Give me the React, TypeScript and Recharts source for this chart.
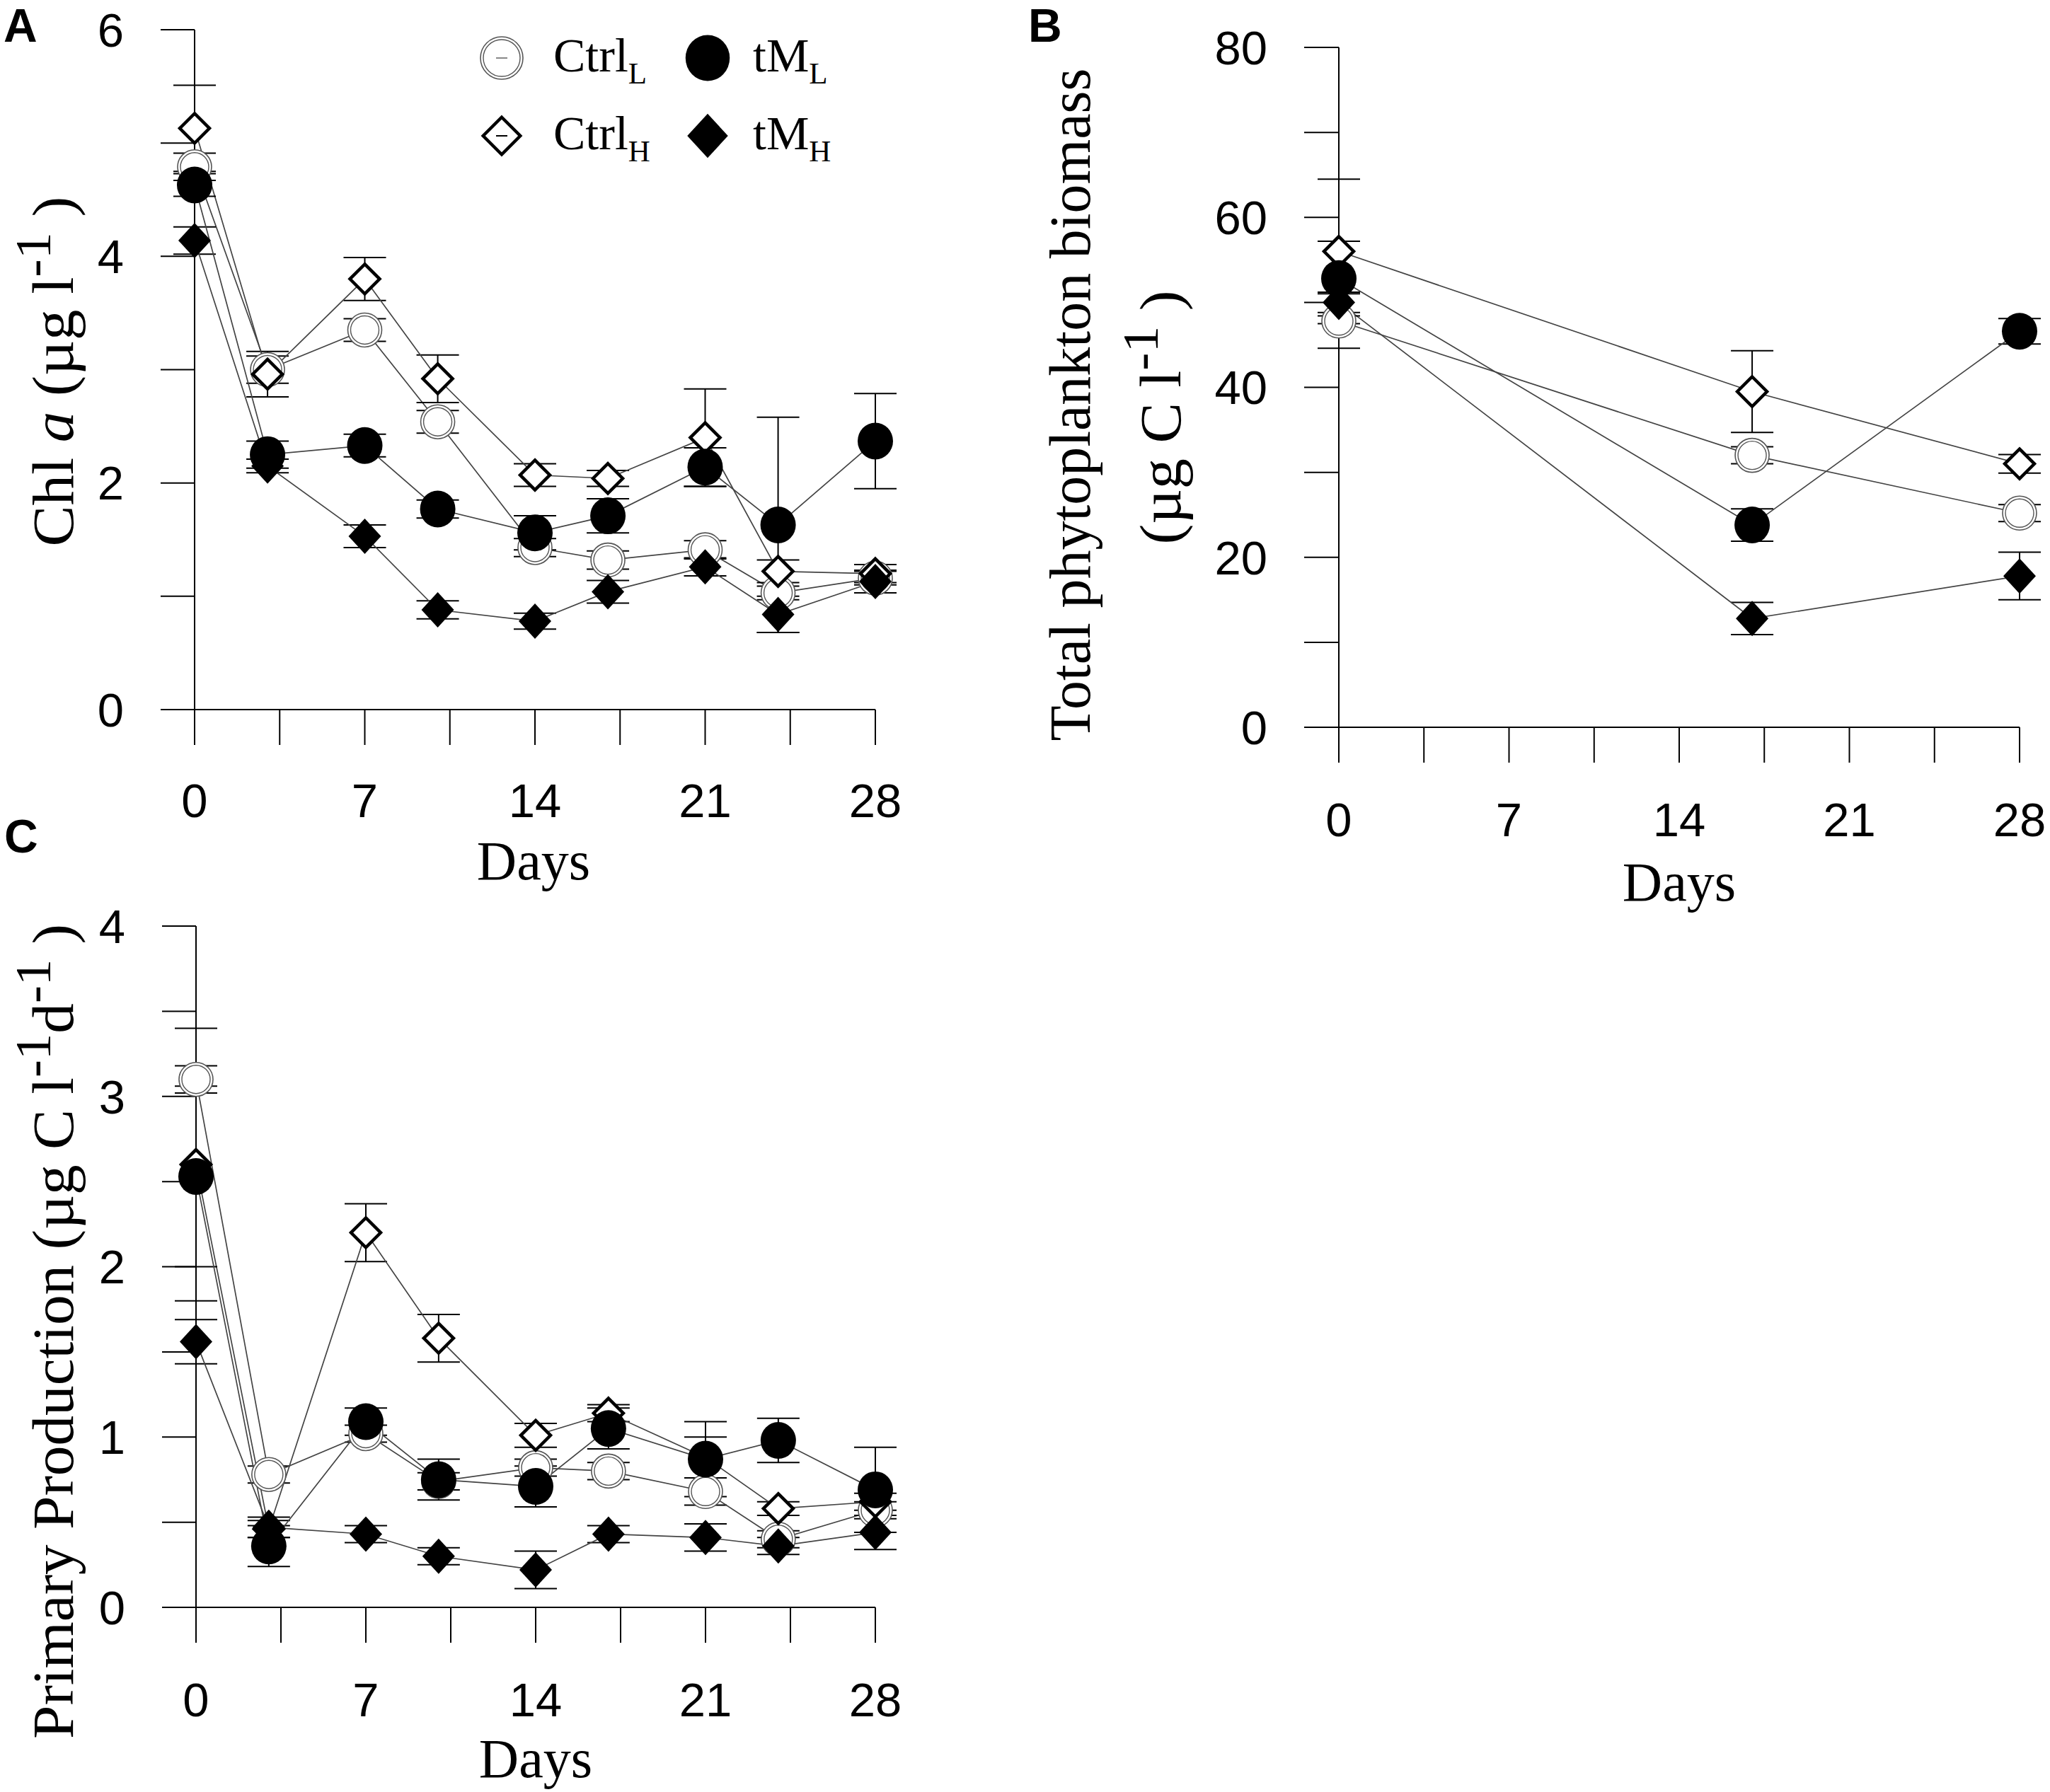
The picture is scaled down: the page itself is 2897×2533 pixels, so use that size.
import React from "react";
import { LineChart, Line, XAxis, YAxis, ErrorBar, Label, Legend } from "recharts";

// sampling days
const days = [0, 3, 7, 10, 14, 17, 21, 24, 28];
const daysB = [0, 17, 28];
const dayTicks = [0, 3.5, 7, 10.5, 14, 17.5, 21, 24.5, 28];

const chlTicks = [0, 1, 2, 3, 4, 5, 6];
const bioTicks = [0, 10, 20, 30, 40, 50, 60, 70, 80];
const ppTicks = [0, 0.5, 1, 1.5, 2, 2.5, 3, 3.5, 4];

// A: Chl a (ug/l)
const chlCtrlL = [4.79, 3.0, 3.35, 2.54, 1.43, 1.32, 1.41, 1.03, 1.16];
const chlCtrlLErr = [0.12, 0.12, 0.1, 0.1, 0.08, 0.08, 0.08, 0.06, 0.06];
const chlCtrlH = [5.13, 2.96, 3.8, 2.92, 2.07, 2.04, 2.4, 1.22, 1.2];
const chlCtrlHErr = [0.38, 0.2, 0.19, 0.21, 0.1, 0.07, 0.43, 0.1, 0.08];
const chlTML = [4.63, 2.25, 2.33, 1.77, 1.56, 1.71, 2.14, 1.63, 2.37];
const chlTMLErr = [0.1, 0.12, 0.1, 0.08, 0.15, 0.15, 0.17, 0.95, 0.42];
const chlTMH = [4.14, 2.15, 1.53, 0.88, 0.78, 1.04, 1.26, 0.84, 1.13];
const chlTMHErr = [0.12, 0.06, 0.1, 0.08, 0.07, 0.1, 0.08, 0.16, 0.1];

// B: total phytoplankton biomass (ug C/l)
const bioCtrlL = [47.8, 32.0, 25.2];
const bioCtrlLErr = [3.2, 1.0, 1.0];
const bioCtrlH = [56.0, 39.5, 31.0];
const bioCtrlHErr = [8.5, 4.8, 1.1];
const bioTML = [52.8, 23.8, 46.6];
const bioTMLErr = [4.4, 1.9, 1.5];
const bioTMH = [50.0, 12.8, 17.8];
const bioTMHErr = [1.2, 1.9, 2.8];

// C: primary production (ug C/l/d)
const ppCtrlL = [3.1, 0.78, 1.02, 0.74, 0.82, 0.8, 0.68, 0.4, 0.57];
const ppCtrlLErr = [0.08, 0.05, 0.05, 0.05, 0.05, 0.05, 0.08, 0.05, 0.05];
const ppCtrlH = [2.6, 0.46, 2.2, 1.58, 1.01, 1.14, 0.88, 0.58, 0.62];
const ppCtrlHErr = [0.8, 0.05, 0.17, 0.14, 0.07, 0.05, 0.12, 0.04, 0.05];
const ppTML = [2.53, 0.36, 1.09, 0.75, 0.71, 1.05, 0.87, 0.98, 0.69];
const ppTMLErr = [0.53, 0.12, 0.08, 0.12, 0.12, 0.12, 0.22, 0.13, 0.25];
const ppTMH = [1.56, 0.47, 0.43, 0.3, 0.22, 0.43, 0.41, 0.36, 0.44];
const ppTMHErr = [0.13, 0.06, 0.05, 0.05, 0.11, 0.05, 0.08, 0.05, 0.1];

const SERIF = "'Liberation Serif', 'Times New Roman', serif";
const SANS = "'Liberation Sans', Arial, sans-serif";
const TITLE = 82;
const SUP = 72;

type Kind = "ctrlL" | "ctrlH" | "tML" | "tMH";

function buildRows(x: number[], cols: Record<string, number[]>) {
  return x.map((d, i) => {
    const row: Record<string, number> = { day: d };
    for (const k of Object.keys(cols)) row[k] = cols[k][i];
    return row;
  });
}

const dataA = buildRows(days, {
  ctrlL: chlCtrlL, ctrlLErr: chlCtrlLErr,
  ctrlH: chlCtrlH, ctrlHErr: chlCtrlHErr,
  tML: chlTML, tMLErr: chlTMLErr,
  tMH: chlTMH, tMHErr: chlTMHErr,
});
const dataB = buildRows(daysB, {
  ctrlL: bioCtrlL, ctrlLErr: bioCtrlLErr,
  ctrlH: bioCtrlH, ctrlHErr: bioCtrlHErr,
  tML: bioTML, tMLErr: bioTMLErr,
  tMH: bioTMH, tMHErr: bioTMHErr,
});
const dataC = buildRows(days, {
  ctrlL: ppCtrlL, ctrlLErr: ppCtrlLErr,
  ctrlH: ppCtrlH, ctrlHErr: ppCtrlHErr,
  tML: ppTML, tMLErr: ppTMLErr,
  tMH: ppTMH, tMHErr: ppTMHErr,
});

function Marker({ kind, cx, cy, s = 1 }: { kind: Kind; cx: number; cy: number; s?: number }) {
  if (cx == null || cy == null) return <g />;
  if (kind === "ctrlL") {
    const r = 24 * s;
    return (
      <g>
        <circle cx={cx} cy={cy} r={r} fill="#fff" stroke="#555" strokeWidth={1.6} />
        <circle cx={cx} cy={cy} r={r - 4} fill="none" stroke="#555" strokeWidth={1.4} />
      </g>
    );
  }
  if (kind === "ctrlH") {
    const h = 21 * s;
    return (
      <polygon
        points={`${cx},${cy - h} ${cx + h},${cy} ${cx},${cy + h} ${cx - h},${cy}`}
        fill="#fff"
        stroke="#000"
        strokeWidth={4.5}
      />
    );
  }
  if (kind === "tML") {
    return <ellipse cx={cx} cy={cy} rx={25 * s} ry={26 * s} fill="#000" />;
  }
  const w = 23 * s;
  const h = 25 * s;
  return (
    <polygon points={`${cx},${cy - h} ${cx + w},${cy} ${cx},${cy + h} ${cx - w},${cy}`} fill="#000" />
  );
}

const order: Kind[] = ["ctrlL", "ctrlH", "tMH", "tML"];
const names: Record<Kind, string> = { ctrlL: "CtrlL", ctrlH: "CtrlH", tML: "tML", tMH: "tMH" };

function renderSeries() {
  return order.map((k) => (
    <Line
      key={k}
      dataKey={k}
      name={names[k]}
      type="linear"
      stroke="#444"
      strokeWidth={1.7}
      isAnimationActive={false}
      activeDot={false}
      dot={(p: any) => <Marker key={`${k}-${p.index}`} kind={k} cx={p.cx} cy={p.cy} />}
    >
      <ErrorBar dataKey={`${k}Err`} width={30} stroke="#000" strokeWidth={2} direction="y" isAnimationActive={false} />
    </Line>
  ));
}

const tickStyle = { fontSize: 67, fill: "#000", fontFamily: SANS };
const axisStroke = { stroke: "#000", strokeWidth: 2 };
const dayFmt = (v: number) => (v % 7 === 0 ? String(v) : "");

function Sup({ children }: { children: React.ReactNode }) {
  return (
    <tspan fontSize={SUP} dy={-32}>
      {children}
    </tspan>
  );
}

function LegendBox() {
  const items: { kind: Kind; label: string; sub: string; x: number; y: number; tx: number }[] = [
    { kind: "ctrlL", label: "Ctrl", sub: "L", x: 69, y: 62, tx: 142 },
    { kind: "tML", label: "tM", sub: "L", x: 360, y: 62, tx: 424 },
    { kind: "ctrlH", label: "Ctrl", sub: "H", x: 69, y: 172, tx: 142 },
    { kind: "tMH", label: "tM", sub: "H", x: 360, y: 172, tx: 424 },
  ];
  return (
    <svg width={620} height={230}>
      {items.map((it) => (
        <g key={it.kind}>
          <Marker kind={it.kind} cx={it.x} cy={it.y} s={1.25} />
          {(it.kind === "ctrlL" || it.kind === "ctrlH") && (
            <line x1={it.x - 8} x2={it.x + 8} y1={it.y} y2={it.y} stroke={it.kind === "ctrlL" ? "#888" : "#000"} strokeWidth={2} />
          )}
          <text x={it.tx} y={it.y + 19} fontFamily={SERIF} fontSize={68} fill="#000">
            {it.label}
            <tspan fontSize={43} dy={17}>{it.sub}</tspan>
          </text>
        </g>
      ))}
    </svg>
  );
}

export default function App() {
  return (
    <div style={{ position: "absolute", left: 0, top: 0, width: 2897, height: 2533, background: "#fff" }}>
      {/* Panel A */}
      <div style={{ position: "absolute", left: 0, top: 0 }}>
        <LineChart width={1300} height={1290} data={dataA} margin={{ top: 42, right: 63, left: 0, bottom: 87 }}>
          <XAxis
            dataKey="day"
            type="number"
            domain={[0, 28]}
            ticks={dayTicks}
            interval={0}
            tickFormatter={dayFmt}
            tickSize={50}
            tickMargin={54}
            height={200}
            tick={tickStyle}
            axisLine={axisStroke}
            tickLine={axisStroke}
          >
            <Label
              content={() => (
                <text x={754} y={1243} textAnchor="middle" fontFamily={SERIF} fontSize={78} fill="#000">
                  Days
                </text>
              )}
            />
          </XAxis>
          <YAxis
            type="number"
            domain={[0, 6]}
            ticks={chlTicks}
            interval={0}
            tickFormatter={(v: number) => (v % 2 === 0 ? String(v) : "")}
            width={275}
            tickSize={48}
            tickMargin={52}
            tick={tickStyle}
            axisLine={axisStroke}
            tickLine={axisStroke}
          >
            <Label
              content={() => (
                <g>
                  <text x={5} y={59} fontFamily={SANS} fontWeight="bold" fontSize={66} fill="#000">
                    A
                  </text>
                  <text
                    transform="translate(103,525) rotate(-90) scale(1.06,1)"
                    textAnchor="middle"
                    fontFamily={SERIF}
                    fontSize={TITLE}
                    fill="#000"
                  >
                    Chl <tspan fontStyle="italic">a</tspan> (µg l
                    <Sup>-1</Sup>
                    <tspan dy={32}> )</tspan>
                  </text>
                </g>
              )}
            />
          </YAxis>
          <Legend
            layout="horizontal"
            verticalAlign="middle"
            align="center"
            content={() => <LegendBox />}
            wrapperStyle={{ left: 640, top: 20, width: 620, height: 230 }}
          />
          {renderSeries()}
        </LineChart>
      </div>

      {/* Panel B */}
      <div style={{ position: "absolute", left: 1450, top: 0 }}>
        <LineChart width={1447} height={1300} data={dataB} margin={{ top: 67, right: 43, left: 0, bottom: 72 }}>
          <XAxis
            dataKey="day"
            type="number"
            domain={[0, 28]}
            ticks={dayTicks}
            interval={0}
            tickFormatter={dayFmt}
            tickSize={50}
            tickMargin={56}
            height={200}
            tick={tickStyle}
            axisLine={axisStroke}
            tickLine={axisStroke}
          >
            <Label
              content={() => (
                <text x={923} y={1273} textAnchor="middle" fontFamily={SERIF} fontSize={78} fill="#000">
                  Days
                </text>
              )}
            />
          </XAxis>
          <YAxis
            type="number"
            domain={[0, 80]}
            ticks={bioTicks}
            interval={0}
            tickFormatter={(v: number) => (v % 20 === 0 ? String(v) : "")}
            width={442}
            tickSize={49}
            tickMargin={52}
            tick={tickStyle}
            axisLine={axisStroke}
            tickLine={axisStroke}
          >
            <Label
              content={() => (
                <g>
                  <text x={3} y={59} fontFamily={SANS} fontWeight="bold" fontSize={66} fill="#000">
                    B
                  </text>
                  <text
                    transform="translate(90,572) rotate(-90)"
                    textAnchor="middle"
                    fontFamily={SERIF}
                    fontSize={TITLE}
                    fill="#000"
                  >
                    Total phytoplankton biomass
                  </text>
                  <text
                    transform="translate(218,590) rotate(-90) scale(1.05,1)"
                    textAnchor="middle"
                    fontFamily={SERIF}
                    fontSize={TITLE}
                    fill="#000"
                  >
                    (µg C l
                    <Sup>-1</Sup>
                    <tspan dy={32}> )</tspan>
                  </text>
                </g>
              )}
            />
          </YAxis>
          {renderSeries()}
        </LineChart>
      </div>

      {/* Panel C */}
      <div style={{ position: "absolute", left: 0, top: 1130 }}>
        <LineChart width={1300} height={1403} data={dataC} margin={{ top: 179, right: 63, left: 0, bottom: 61 }}>
          <XAxis
            dataKey="day"
            type="number"
            domain={[0, 28]}
            ticks={dayTicks}
            interval={0}
            tickFormatter={dayFmt}
            tickSize={50}
            tickMargin={56}
            height={200}
            tick={tickStyle}
            axisLine={axisStroke}
            tickLine={axisStroke}
          >
            <Label
              content={() => (
                <text x={757} y={1382} textAnchor="middle" fontFamily={SERIF} fontSize={78} fill="#000">
                  Days
                </text>
              )}
            />
          </XAxis>
          <YAxis
            type="number"
            domain={[0, 4]}
            ticks={ppTicks}
            interval={0}
            tickFormatter={(v: number) => (Number.isInteger(v) ? String(v) : "")}
            width={277}
            tickSize={48}
            tickMargin={52}
            tick={tickStyle}
            axisLine={axisStroke}
            tickLine={axisStroke}
          >
            <Label
              content={() => (
                <g>
                  <text x={6} y={75} fontFamily={SANS} fontWeight="bold" fontSize={66} fill="#000">
                    C
                  </text>
                  <text
                    transform="translate(103,752) rotate(-90) scale(1.04,1)"
                    textAnchor="middle"
                    fontFamily={SERIF}
                    fontSize={TITLE}
                    fill="#000"
                  >
                    Primary Production (µg C l
                    <Sup>-1</Sup>
                    <tspan dy={32}>d</tspan>
                    <Sup>-1</Sup>
                    <tspan dy={32}> )</tspan>
                  </text>
                </g>
              )}
            />
          </YAxis>
          {renderSeries()}
        </LineChart>
      </div>
    </div>
  );
}
